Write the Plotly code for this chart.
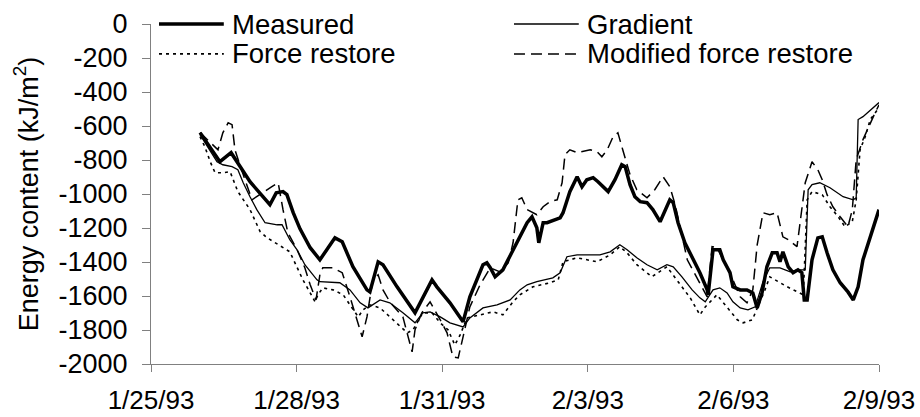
import pandas as pd
import plotly.graph_objects as go

BASE = pd.Timestamp("1993-01-25")

# days since 1/25/93 and energy content (kJ/m2)
measured_days = [1.01, 1.42, 1.65, 1.79, 1.98, 2.04, 2.45, 2.58, 2.72, 2.80, 2.93, 3.07, 3.28, 3.48, 3.79, 3.94,
                 4.16, 4.45, 4.51, 4.68, 4.78, 5.07, 5.44, 5.79, 5.89, 6.16, 6.43, 6.57, 6.84, 6.92, 6.99, 7.09,
                 7.25, 7.46, 7.60, 7.75, 7.85, 7.95, 7.99, 8.08, 8.16, 8.43, 8.49, 8.63, 8.78, 8.88, 8.98, 9.11,
                 9.21, 9.31, 9.42, 9.56, 9.70, 9.77, 9.87, 9.97, 10.08, 10.22, 10.34, 10.49, 10.59, 10.69, 10.76,
                 10.86, 11.00, 11.11, 11.31, 11.46, 11.48, 11.58, 11.72, 11.79, 11.93, 11.99, 12.14, 12.28, 12.40,
                 12.49, 12.59, 12.69, 12.80, 12.90, 12.96, 13.02, 13.13, 13.23, 13.33, 13.41, 13.46, 13.52, 13.62,
                 13.74, 13.83, 13.93, 14.05, 14.20, 14.36, 14.47, 14.57, 14.67, 14.82, 15.00]
measured_vals = [-639, -810, -757, -816, -904, -928, -1063, -993, -986, -1004, -1110, -1205, -1316, -1387, -1258, -1281,
                 -1428, -1564, -1576, -1399, -1416, -1546, -1699, -1505, -1546, -1640, -1752, -1605, -1416, -1405, -1434, -1487,
                 -1446, -1328, -1252, -1169, -1134, -1199, -1287, -1169, -1169, -1140, -1110, -986, -898, -957, -916, -904,
                 -928, -957, -986, -916, -828, -839, -945, -1016, -1045, -1051, -1092, -1163, -1092, -1034, -1051,
                 -1169, -1287, -1346, -1463, -1564, -1593, -1328, -1328, -1387, -1463, -1546, -1564, -1564, -1582,
                 -1670, -1582, -1428, -1346, -1346, -1399, -1340, -1428, -1463, -1446, -1463, -1623, -1623, -1387,
                 -1258, -1252, -1346, -1446, -1522, -1576, -1623, -1546, -1387, -1252, -1092]

gradient_days = [1.01, 1.36, 1.48, 1.67, 1.79, 1.90, 2.04, 2.18, 2.35, 2.60, 2.70, 2.86, 3.01, 3.17, 3.42, 3.48,
                 3.89, 4.10, 4.31, 4.47, 4.72, 4.92, 5.19, 5.44, 5.60, 5.75, 5.96, 6.16, 6.43, 6.57, 6.84, 7.13,
                 7.40, 7.60, 7.75, 7.95, 8.28, 8.43, 8.57, 8.78, 9.25, 9.46, 9.66, 9.81, 10.01, 10.22, 10.43, 10.63,
                 10.76, 10.94, 11.15, 11.31, 11.42, 11.58, 11.72, 11.87, 11.99, 12.14, 12.30, 12.45, 12.61, 12.75,
                 12.96, 13.17, 13.31, 13.48, 13.54, 13.62, 13.78, 13.99, 14.26, 14.47, 14.53, 14.57, 14.67, 15.00]
gradient_vals = [-651, -810, -828, -839, -857, -934, -1016, -1092, -1169, -1181, -1181, -1269, -1328, -1416, -1505, -1516,
                 -1522, -1564, -1640, -1670, -1623, -1640, -1699, -1758, -1699, -1693, -1723, -1758, -1782, -1729, -1670, -1652,
                 -1623, -1564, -1534, -1516, -1493, -1463, -1369, -1358, -1358, -1340, -1299, -1328, -1375, -1416, -1446, -1416,
                 -1428, -1487, -1564, -1611, -1634, -1564, -1552, -1582, -1634, -1670, -1681, -1664, -1516, -1434,
                 -1434, -1458, -1446, -1446, -975, -945, -934, -963, -1016, -1034, -1022, -562, -545, -462]

force_days = [1.01, 1.11, 1.22, 1.32, 1.48, 1.63, 1.79, 1.94, 2.04, 2.25, 2.39, 2.86, 3.01, 3.13, 3.28, 3.38,
              3.44, 3.54, 3.75, 3.96, 4.10, 4.27, 4.37, 4.51, 4.72, 4.92, 5.13, 5.28, 5.40, 5.48, 5.60, 5.79,
              5.96, 6.12, 6.26, 6.37, 6.51, 6.78, 7.05, 7.25, 7.46, 7.60, 7.87, 8.22, 8.39, 8.49, 8.78, 9.19,
              9.46, 9.66, 9.81, 10.01, 10.32, 10.63, 10.84, 11.11, 11.31, 11.42, 11.66, 11.87, 12.08, 12.20,
              12.39, 12.65, 12.75, 13.11, 13.23, 13.44, 13.52, 13.62, 13.83, 13.99, 14.16, 14.30, 14.45, 14.53,
              14.61, 14.71, 14.82, 15.00]
force_vals = [-663, -722, -810, -875, -875, -869, -986, -1051, -1092, -1222, -1257, -1340, -1428, -1505, -1582, -1634,
              -1593, -1552, -1564, -1593, -1652, -1723, -1681, -1652, -1670, -1723, -1782, -1817, -1799, -1758, -1699, -1699,
              -1758, -1799, -1888, -1829, -1729, -1711, -1693, -1711, -1634, -1593, -1546, -1522, -1505, -1399, -1375, -1399,
              -1358, -1310, -1346, -1416, -1487, -1428, -1505, -1611, -1711, -1664, -1593, -1664, -1740, -1758,
              -1740, -1564, -1487, -1546, -1564, -1593, -1034, -986, -1004, -1075, -1134, -1193, -1163, -1034,
              -739, -668, -562, -492]

modified_days = [1.01, 1.26, 1.38, 1.48, 1.59, 1.67, 1.73, 1.83, 1.94, 2.08, 2.49, 2.62, 2.72, 2.82, 3.01, 3.17,
                 3.28, 3.40, 3.48, 3.54, 3.75, 3.94, 4.10, 4.35, 4.45, 4.57, 4.68, 4.78, 4.92, 5.19, 5.38, 5.44,
                 5.58, 5.75, 5.96, 6.10, 6.22, 6.33, 6.43, 6.57, 6.78, 6.99, 7.19, 7.36, 7.46, 7.56, 7.64, 7.75,
                 7.95, 8.08, 8.22, 8.37, 8.47, 8.53, 8.63, 8.78, 9.05, 9.19, 9.29, 9.40, 9.52, 9.62, 9.72, 9.87,
                 10.01, 10.22, 10.38, 10.55, 10.69, 10.80, 11.05, 11.31, 11.46, 11.56, 11.66, 11.79, 11.99, 12.14,
                 12.28, 12.40, 12.49, 12.61, 12.75, 12.90, 13.02, 13.13, 13.31, 13.48, 13.62, 13.74, 13.83, 13.93,
                 14.05, 14.20, 14.36, 14.45, 14.53, 14.67, 14.82, 14.92, 15.00]
modified_vals = [-639, -710, -740, -640, -581, -592, -740, -828, -916, -1034, -957, -934, -1092, -1228, -1328, -1434,
                 -1534, -1623, -1475, -1434, -1434, -1463, -1605, -1840, -1723, -1505, -1475, -1564, -1634, -1723, -1929, -1799,
                 -1699, -1634, -1740, -1817, -1958, -1964, -1840, -1664, -1534, -1434, -1458, -1405, -1287, -1034, -1022, -1092,
                 -1122, -1075, -1045, -1034, -934, -769, -740, -757, -740, -751, -781, -740, -663, -640, -740, -886,
                 -975, -1022, -975, -898, -957, -1063, -1387, -1522, -1605, -1310, -1316, -1387, -1505, -1605,
                 -1640, -1564, -1299, -1110, -1122, -1110, -1252, -1269, -1310, -934, -810, -857, -916, -1004,
                 -1075, -1134, -1193, -1092, -798, -680, -580, -522, -475]

tick_dates = ["1993-01-25", "1993-01-28", "1993-01-31", "1993-02-03", "1993-02-06", "1993-02-09"]
tick_labels = ["1/25/93", "1/28/93", "1/31/93", "2/3/93", "2/6/93", "2/9/93"]
y_ticks = [0, -200, -400, -600, -800, -1000, -1200, -1400, -1600, -1800, -2000]
y_tick_labels = ["0", "-200", "-400", "-600", "-800", "-1000", "-1200", "-1400", "-1600", "-1800", "-2000"]

series_names = ["Measured", "Gradient", "Force restore", "Modified force restore"]


def to_dates(days):
    return BASE + pd.to_timedelta(days, unit="D")


FONT = "Arial, Liberation Sans, sans-serif"
styles = [dict(color="black", width=3.5),
          dict(color="black", width=1.3),
          dict(color="black", width=1.6, dash="3px,4px"),
          dict(color="black", width=1.5, dash="11px,6px")]
data = [(measured_days, measured_vals), (gradient_days, gradient_vals),
        (force_days, force_vals), (modified_days, modified_vals)]

fig = go.Figure()
for name, (d, v), st in zip(series_names, data, styles):
    fig.add_trace(go.Scatter(x=to_dates(d), y=v, mode="lines", name=name, line=st, showlegend=False,
                             hoverinfo="skip"))

# hand-placed legend (two columns, two rows), positions in paper units
leg_pos = [(0.011, 1.0), (0.4986, 1.0), (0.011, 0.912), (0.4986, 0.912)]
for name, st, (lx, ly) in zip(series_names, styles, leg_pos):
    fig.add_shape(type="line", xref="paper", yref="paper", x0=lx, x1=lx + 0.089, y0=ly, y1=ly, line=st)
    fig.add_annotation(xref="paper", yref="paper", x=lx + 0.097, y=ly, text=name, showarrow=False,
                       xanchor="left", yanchor="middle", font=dict(family=FONT, size=27.5, color="black"))

fig.update_layout(
    width=920, height=417,
    margin=dict(l=151, r=41, t=24, b=53, autoexpand=False),
    paper_bgcolor="white", plot_bgcolor="white",
    font=dict(family=FONT, size=27, color="black"),
    showlegend=False,
    xaxis=dict(type="date", range=["1993-01-25", "1993-02-09"], tickvals=tick_dates, ticktext=tick_labels,
               showgrid=False, zeroline=False, showline=True, linecolor="#808080", linewidth=1,
               ticks="outside", ticklen=7, tickcolor="#808080", ticklabelstandoff=6, automargin=False,
               tickfont=dict(size=26)),
    yaxis=dict(range=[-2000, 0], tickvals=y_ticks, ticktext=y_tick_labels, showgrid=False, zeroline=False,
               showline=True, linecolor="#808080", linewidth=1, ticks="outside", ticklen=8, tickcolor="#808080",
               ticklabelstandoff=9, tickfont=dict(size=27), automargin=False,
               title=dict(text="Energy content (kJ/m<sup>2</sup>)", font=dict(size=27), standoff=12)),
)

fig.write_html("out.html", config={"displayModeBar": False},
               post_script="document.body.style.margin='0';document.body.style.overflow='hidden';")
